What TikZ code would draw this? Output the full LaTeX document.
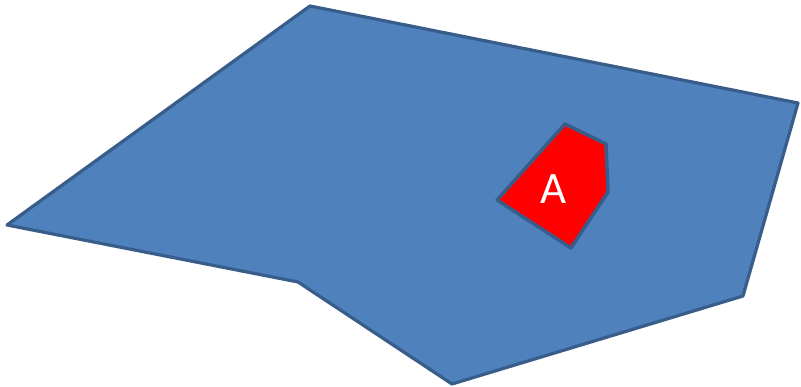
\documentclass[tikz,border=0pt]{standalone}
\usepackage{fontspec}
\setmainfont{Carlito}
\definecolor{officeblue}{HTML}{4F81BD}
\definecolor{officeline}{HTML}{385D8A}
\begin{document}
\begin{tikzpicture}[x=1pt,y=-1pt,
  region/.style={fill=officeblue,draw=officeline,line width=3.2pt,line join=round},
  inner/.style={fill=red,draw=officeline,line width=3.5pt,line join=round},
  lbl/.style={text=white,font=\fontsize{45}{45}\selectfont,inner sep=0pt}]
\useasboundingbox (0,0) rectangle (801,387);
\draw[region] (310,6) -- (798,103) -- (743,296) -- (452,384) -- (298,282) -- (7,225) -- cycle;
\draw[inner] (565,124) -- (606,144) -- (608,192) -- (571,248) -- (497,200) -- cycle;
\node[lbl] (a) at (554,189) {A};
\end{tikzpicture}
\end{document}
